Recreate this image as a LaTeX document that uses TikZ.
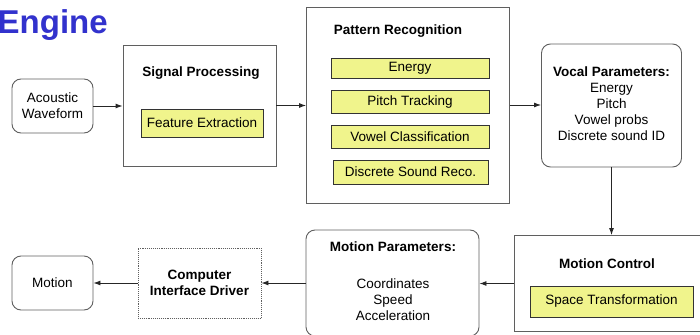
\documentclass[tikz,border=0pt]{standalone}
\usepackage{fontspec}
\setmainfont{Liberation Sans}
\usetikzlibrary{arrows.meta}
\definecolor{boxline}{RGB}{95,95,95}
\definecolor{yel}{RGB}{240,244,140}
\definecolor{titleblue}{RGB}{50,50,205}
\tikzset{
  pic/.style={x=1pt,y=-1pt},
  frame/.style={draw=boxline,line width=0.9pt,fill=white},
  rbox/.style={draw=boxline,line width=0.9pt,fill=white,rounded corners=9pt},
  ybox/.style={draw=black!80,line width=0.8pt,fill=yel},
  dbox/.style={draw=boxline,line width=0.9pt,densely dotted,fill=white},
  lbl/.style={font=\fontsize{13.5}{16}\selectfont,align=center,inner sep=0pt},
  blbl/.style={font=\fontsize{13.5}{16}\selectfont\bfseries,align=center,inner sep=0pt},
  conn/.style={draw=black!85,line width=0.9pt,-{Latex[length=7pt,width=5pt]}}
}
\begin{document}
\begin{tikzpicture}[pic]
\useasboundingbox (0,0) rectangle (700,334);
\clip (0,0) rectangle (700,334);
% title fragment
\node[anchor=base west,inner sep=0pt,text=titleblue,font=\fontsize{33}{36}\selectfont\bfseries] (title) at (-2.5,34) {Engine};
% boxes
\node[rbox,minimum width=81pt,minimum height=54pt] (aw) at (52.5,106) {};
\node[lbl] at (aw) {Acoustic\\Waveform};

\node[frame,minimum width=153pt,minimum height=121pt] (sp) at (199.5,105.5) {};
\node[blbl] (spt) at (201,73) {Signal Processing};
\node[ybox,minimum width=122pt,minimum height=28pt] (fe) at (202,123) {};
\node[lbl] at (fe) {Feature Extraction};

\node[frame,minimum width=203pt,minimum height=196pt] (pr) at (408,105) {};
\node[blbl] (prt) at (398,31) {Pattern Recognition};
\node[ybox,minimum width=158pt,minimum height=20pt] (en) at (410,68) {};
\node[lbl] at (en) {Energy};
\node[ybox,minimum width=158pt,minimum height=23pt] (pt) at (410,102) {};
\node[lbl] at (pt) {Pitch Tracking};
\node[ybox,minimum width=158pt,minimum height=23pt] (vc) at (410,136.5) {};
\node[lbl] at (vc) {Vowel Classification};
\node[ybox,minimum width=155pt,minimum height=24pt] (ds) at (410.5,172) {};
\node[lbl] at (ds) {Discrete Sound Reco.};

\node[rbox,minimum width=140pt,minimum height=123pt] (vp) at (611.5,105.5) {};
\node[lbl,anchor=north] at (611.5,66.5) {\textbf{Vocal Parameters:}\\Energy\\Pitch\\Vowel probs\\Discrete sound ID};

\node[frame,minimum width=188pt,minimum height=96pt] (mc) at (608,283.5) {};
\node[blbl] (mct) at (607,264) {Motion Control};
\node[ybox,minimum width=163pt,minimum height=31pt] (st) at (611.5,301.5) {};
\node[lbl] at (st) {Space Transformation};

\node[rbox,minimum width=173pt,minimum height=106pt] (mp) at (392.5,283) {};
\node[blbl] (mpt) at (393,247) {Motion Parameters:};
\node[lbl] at (393,299.5) {Coordinates\\Speed\\Acceleration};

\node[dbox,minimum width=123pt,minimum height=70pt] (cid) at (199.5,283) {};
\node[blbl] at (cid) {Computer\\Interface Driver};

\node[rbox,minimum width=81pt,minimum height=54pt] (mo) at (52.5,283) {};
\node[lbl] at (mo) {Motion};

% connectors
\draw[conn] (aw.east) -- (sp.west |- aw.east);
\draw[conn] (sp.east |- 0,105.5) -- (pr.west |- 0,105.5);
\draw[conn] (pr.east |- 0,105) -- (vp.west |- 0,105);
\draw[conn] (vp.south) -- (vp.south |- mc.north);
\draw[conn] (mc.west) -- (mp.east |- mc.west);
\draw[conn] (mp.west) -- (cid.east);
\draw[conn] (cid.west) -- (mo.east);
\end{tikzpicture}
\end{document}
